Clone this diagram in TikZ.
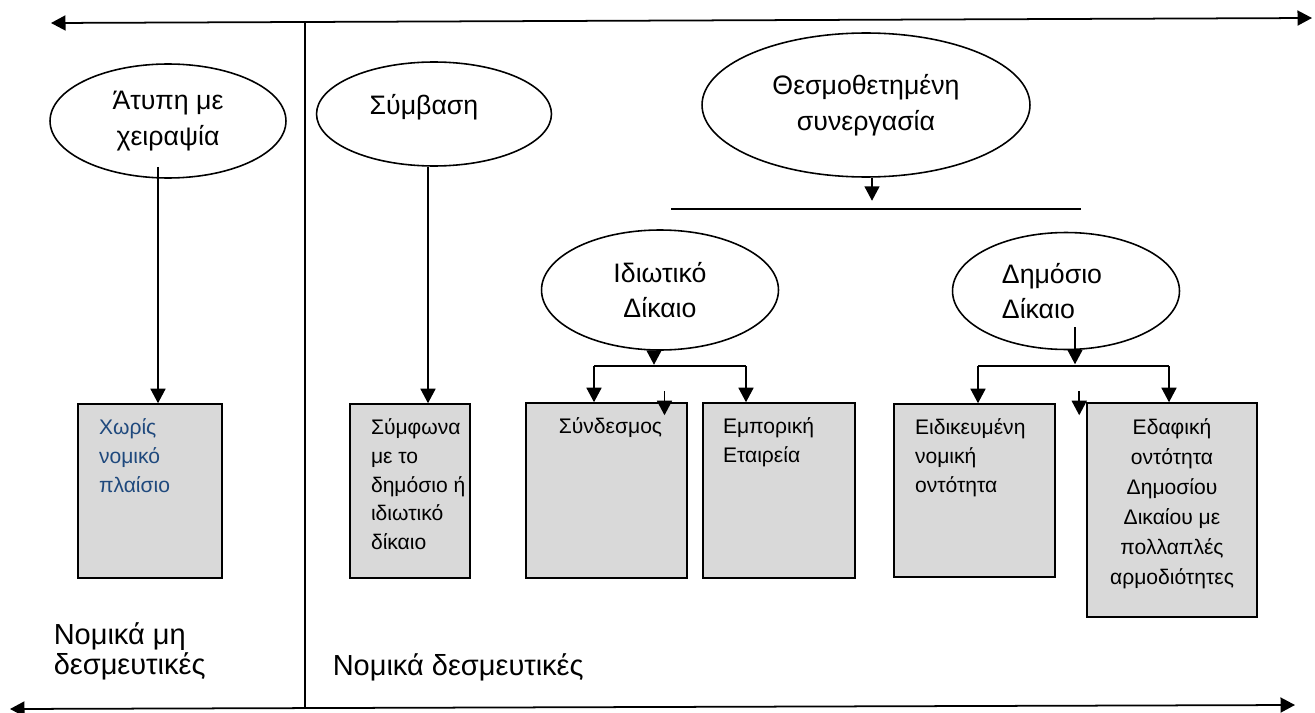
\documentclass[tikz,border=0pt]{standalone}
\usepackage{fontspec}
\setmainfont{Liberation Sans}
\usetikzlibrary{arrows.meta, shapes.geometric, calc}

\definecolor{boxgray}{HTML}{D9D9D9}
\definecolor{textblue}{HTML}{1F497D}

\begin{document}
\begin{tikzpicture}[
        x=0.02cm, y=-0.02cm,
        line width=0.9pt,
        >={Triangle[length=0.29cm, width=0.3cm]},
        oval/.style={ellipse, draw, inner sep=0pt, align=center, font=\fontsize{15.2}{20.2}\selectfont},
        card/.style={rectangle, draw, fill=boxgray, inner sep=0pt},
        cardtext/.style={inner sep=0pt, align=left, font=\fontsize{12}{16.3}\selectfont},
        side/.style={inner sep=0pt, align=left, anchor=north west, font=\fontsize{16.5}{16.8}\selectfont}
    ]
    \useasboundingbox (0,0) rectangle (1315,713);

% ---------- frame: the two scales and the divider ----------
    \coordinate (topL) at (51,23);
    \coordinate (topR) at (1312,18);
    \coordinate (botL) at (10,709);
    \coordinate (botR) at (1295,705);
    \coordinate (divT) at (305,22);
    \coordinate (divB) at (305,708);
    \draw[<->, line width=1pt] (topL) -- (topR);
    \draw[<->, line width=1pt] (botL) -- (botR);
    \draw (divT) -- (divB);

% ---------- ovals ----------
    \node[oval, minimum width=4.72cm, minimum height=2.28cm] (e_informal) at (168,121) {Άτυπη με\\χειραψία};
    \node[oval, minimum width=4.70cm, minimum height=2.08cm, text height=0.35cm, text depth=0.35cm] (e_contract) at (434,114) {Σύμβαση\hspace*{0.40cm}};
    \node[oval, minimum width=6.56cm, minimum height=2.88cm] (e_inst) at (866,105) {Θεσμοθετημένη\\συνεργασία};
    \node[oval, minimum width=4.74cm, minimum height=2.40cm] (e_priv) at (660,290) {Ιδιωτικό\\Δίκαιο};
    \node[oval, minimum width=4.54cm, minimum height=2.34cm, align=left] (e_pub) at (1066,291) {Δημόσιο\hspace*{0.56cm}\\Δίκαιο};

% ---------- grey boxes ----------
    \node[card, minimum width=2.88cm, minimum height=3.48cm] (b_none) at (150,491) {};
    \node[card, minimum width=2.40cm, minimum height=3.48cm] (b_agree) at (410,491) {};
    \node[card, minimum width=3.22cm, minimum height=3.50cm] (b_assoc) at (606.5,490.5) {};
    \node[card, minimum width=3.04cm, minimum height=3.50cm] (b_comp) at (779,490.5) {};
    \node[card, minimum width=3.22cm, minimum height=3.46cm] (b_spec) at (974.5,490.5) {};
    \node[card, minimum width=3.40cm, minimum height=4.28cm] (b_terr) at (1172,510) {};

    % box texts
    \node[cardtext, anchor=north west, text=textblue] (t_none) at ($(b_none.north west)+(21,15)$) {Χωρίς\\νομικό\\πλαίσιο};
    \node[cardtext, anchor=north west] (t_agree) at ($(b_agree.north west)+(21,15)$) {Σύμφωνα\\με το\\δημόσιο ή\\ιδιωτικό\\δίκαιο};
    \node[cardtext, anchor=north] (t_assoc) at ($(b_assoc.north)+(4,15)$) {Σύνδεσμος};
    \node[cardtext, anchor=north west] (t_comp) at ($(b_comp.north west)+(20,15)$) {Εμπορική\\Εταιρεία};
    \node[cardtext, anchor=north west] (t_spec) at ($(b_spec.north west)+(21,15)$) {Ειδικευμένη\\νομική\\οντότητα};
    \node[cardtext, anchor=north, align=center, font=\fontsize{12}{17}\selectfont] (t_terr) at ($(b_terr.north)+(0,16)$) {Εδαφική\\οντότητα\\Δημοσίου\\Δικαίου με\\πολλαπλές\\αρμοδιότητες};

% ---------- side labels ----------
    \node[side] (l_nonbind) at (53,622) {Νομικά μη\\δεσμευτικές};
    \node[side] (l_bind) at (332,653) {Νομικά δεσμευτικές};

% ---------- connectors ----------
    \coordinate (informal_out) at ($(e_informal.south)+(-10,-12)$);
    \draw[->] (informal_out) -- (informal_out |- b_none.north);

    \coordinate (contract_out) at ($(e_contract.south)+(-6,0)$);
    \draw[->] (contract_out) -- (contract_out |- b_agree.north);

    \coordinate (barL) at (671,209);
    \coordinate (barR) at (1081,209);
    \draw[->] ($(e_inst.south)+(6,0)$) -- ++(0,23);
    \draw (barL) -- (barR);

    % private law branch
    \coordinate (privL) at (594,366);
    \coordinate (privR) at (746,366);
    \draw[->] ($(e_priv.south)+(-6,0)$) -- ++(0,14);
    \draw (privL) -- (privR);
    \draw[->] (privL) -- (privL |- b_assoc.north);
    \draw[->] (privR) -- (privR |- b_comp.north);
    \draw[->] ($(b_assoc.north)+(58,-11)$) -- ++(0,24);

    % public law branch
    \coordinate (pubL) at (978,366);
    \coordinate (pubR) at (1169,366);
    \coordinate (pub_out) at ($(e_pub.south)+(9,-23)$);
    \draw[->] (pub_out) -- ++(0,37);
    \draw (pubL) -- (pubR);
    \draw[->] (pubL) -- (pubL |- b_spec.north);
    \draw[->] (pubR) -- (pubR |- b_terr.north);
    \draw[->] ($(b_terr.north west)+(-7,-11)$) -- ++(0,24);

\end{tikzpicture}
\end{document}
